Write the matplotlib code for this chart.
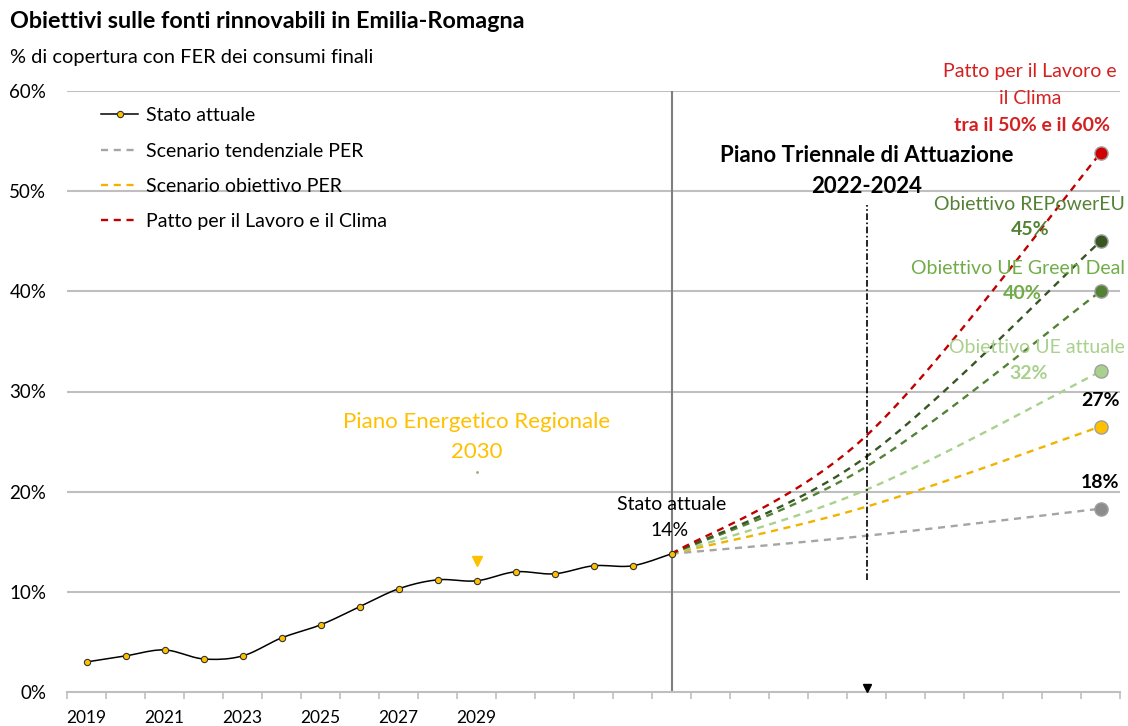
import matplotlib
matplotlib.use("Agg")
import matplotlib.pyplot as plt
import numpy as np

plt.rcParams['font.family'] = ['Lato', 'DejaVu Sans']

# categorie asse x (una ogni due ha l'etichetta)
etichette_anni = ['2019', '2021', '2023', '2025', '2027', '2029']
pos_etichette = [0, 2, 4, 6, 8, 10]
n_categorie = 27

# serie storica (% di copertura FER)
x_stato = list(range(16))
stato_attuale = [3.0, 3.6, 4.2, 3.3, 3.6, 5.4, 6.7, 8.5, 10.3, 11.2, 11.1, 12.0, 11.8, 12.6, 12.6, 13.8]

# scenari: valori a categoria 15 (oggi), 20 (PTA), 26 (obiettivo)
x_scenari = [15, 20, 26]
tendenziale_per = [13.8, 15.6, 18.3]
obiettivo_per = [13.8, 18.5, 26.5]
ue_attuale = [13.8, 20.2, 32.0]
ue_green_deal = [13.8, 22.5, 40.0]
repowereu = [13.8, 23.5, 45.0]
patto_lavoro = [13.8, 25.6, 53.8]

# punti singoli
per_2030 = [13.1, 22.0]    # triangolo e punto etichetta PER (cat. 10)
pta_base = 0.4             # triangolo PTA (cat. 20)
pta_linea = [11.2, 48.6]   # linea verticale PTA


def smooth(x, y, n=30):
    # curva tipo Excel (Catmull-Rom come Bezier)
    p = np.column_stack([x, y]).astype(float)
    pts = np.vstack([p[0], p, p[-1]])
    out = []
    for i in range(1, len(pts) - 2):
        p0, p1, p2, p3 = pts[i - 1], pts[i], pts[i + 1], pts[i + 2]
        c1 = p1 + (p2 - p0) / 6
        c2 = p2 - (p3 - p1) / 6
        t = np.linspace(0, 1, n)[:, None]
        seg = (1 - t) ** 3 * p1 + 3 * (1 - t) ** 2 * t * c1 + 3 * (1 - t) * t ** 2 * c2 + t ** 3 * p2
        out.append(seg if i == 1 else seg[1:])
    out = np.vstack(out)
    return out[:, 0], out[:, 1]


fig = plt.figure(figsize=(11.28, 7.26), dpi=100)
ax = fig.add_axes([67 / 1128, 34 / 726, 1053 / 1128, 601 / 726])

grigio_griglia = '#BFBFBF'
for v in range(10, 61, 10):
    ax.axhline(v, color=grigio_griglia, lw=1.5, zorder=0)

ax.axvline(15, color='#7F7F7F', lw=1.5, zorder=1)

dash = (0, (3.0, 2.4))
scenari = [
    (tendenziale_per, '#A5A5A5', '#8C8C8C', 'Scenario tendenziale PER'),
    (obiettivo_per, '#F0B400', '#FFC000', 'Scenario obiettivo PER'),
    (ue_attuale, '#A9D18E', '#A9D18E', None),
    (ue_green_deal, '#548235', '#548235', None),
    (repowereu, '#375623', '#375623', None),
    (patto_lavoro, '#C00000', '#D00000', 'Patto per il Lavoro e il Clima'),
]
handles = {}
for valori, col, col_m, nome in scenari:
    xs, ys = smooth(x_scenari, valori)
    ln, = ax.plot(xs, ys, color=col, lw=1.7, ls=dash, zorder=3)
    ax.plot(x_scenari[-1], valori[-1], 'o', ms=9.5, color=col_m, mec='#A0A0A0', mew=1, zorder=5)
    if nome:
        handles[nome] = ln

xs, ys = smooth(x_stato, stato_attuale, 12)
ax.plot(xs, ys, color='black', lw=1.1, zorder=4)
ax.plot(x_stato, stato_attuale, 'o', ms=4.5, color='#FFC000', mec='#333333', mew=0.8, zorder=5)
h_stato, = ax.plot([], [], color='black', lw=1.1, marker='o', ms=4.5, mfc='#FFC000', mec='#333333', mew=0.8)

# PER 2030
ax.plot(10, per_2030[0], 'v', ms=7, color='#FFC000', zorder=5)
ax.plot(10, per_2030[1], '.', ms=2, color='#B0A080', zorder=5)
# PTA 2022-2024
ax.plot([20, 20], pta_linea, color='black', lw=1.2, ls=(0, (4, 1.5, 1, 1.5)), zorder=4)
ax.plot(20, pta_base, 'v', ms=6, color='black', zorder=5)

leg = ax.legend([h_stato, handles['Scenario tendenziale PER'], handles['Scenario obiettivo PER'],
                 handles['Patto per il Lavoro e il Clima']],
                ['Stato attuale', 'Scenario tendenziale PER', 'Scenario obiettivo PER',
                 'Patto per il Lavoro e il Clima'],
                loc='upper left', bbox_to_anchor=(0.016, 1.002), frameon=False,
                fontsize=14, handlelength=1.9, handletextpad=0.4, labelspacing=0.94)

# testi
fs = 14
ax.text(24.2, 61.9, 'Patto per il Lavoro e', color='#D42020', fontsize=fs, ha='center', va='center', clip_on=False)
ax.text(24.2, 59.3, 'il Clima', color='#D42020', fontsize=fs, ha='center', va='center', clip_on=False)
ax.text(24.25, 56.6, 'tra il 50% e il 60%', color='#D42020', fontsize=fs, fontweight='bold', ha='center', va='center')
ax.text(20.0, 53.6, 'Piano Triennale di Attuazione', fontsize=16, fontweight='bold', ha='center', va='center')
ax.text(20.0, 50.5, '2022-2024', fontsize=16, fontweight='bold', ha='center', va='center')
ax.text(26.63, 48.7, 'Obiettivo REPowerEU', color='#548235', fontsize=fs, ha='right', va='center')
ax.text(24.2, 46.2, '45%', color='#548235', fontsize=fs, fontweight='bold', ha='center', va='center')
ax.text(26.63, 42.3, 'Obiettivo UE Green Deal', color='#70AD47', fontsize=fs, ha='right', va='center')
ax.text(24.0, 39.8, '40%', color='#70AD47', fontsize=fs, fontweight='bold', ha='center', va='center')
ax.text(26.63, 34.4, 'Obiettivo UE attuale', color='#A9D18E', fontsize=fs, ha='right', va='center')
ax.text(24.15, 31.8, '32%', color='#A9D18E', fontsize=fs, fontweight='bold', ha='center', va='center')
ax.text(26.0, 29.1, '27%', fontsize=fs, fontweight='bold', ha='center', va='center')
ax.text(26.0, 20.9, '18%', fontsize=fs, fontweight='bold', ha='center', va='center')
ax.text(15.0, 18.7, 'Stato attuale', fontsize=fs, ha='center', va='center')
ax.text(14.95, 16.1, '14%', fontsize=fs, ha='center', va='center')
ax.text(10.0, 27.0, 'Piano Energetico Regionale', color='#FFC000', fontsize=16, ha='center', va='center')
ax.text(10.0, 24.0, '2030', color='#FFC000', fontsize=16, ha='center', va='center')

fig.text(10 / 1128, 1 - 22 / 726, 'Obiettivi sulle fonti rinnovabili in Emilia-Romagna',
         fontsize=16.8, fontweight='bold', ha='left', va='center')
fig.text(10 / 1128, 1 - 57 / 726, '% di copertura con FER dei consumi finali',
         fontsize=14.4, ha='left', va='center')

# assi
ax.set_xlim(-0.5, n_categorie - 0.5)
ax.set_ylim(0, 60)
ax.set_yticks(range(0, 61, 10))
ax.set_yticklabels([f'{v}%' for v in range(0, 61, 10)], fontsize=13.5)
ax.tick_params(axis='y', length=0, pad=15)
ax.set_xticks(pos_etichette)
ax.set_xticklabels(etichette_anni, fontsize=12.5)
ax.set_xticks(np.arange(-0.5, n_categorie, 1), minor=True)
ax.tick_params(axis='x', which='major', length=0, pad=13)
ax.tick_params(axis='x', which='minor', length=5, color=grigio_griglia, width=1.2)
for s in ['top', 'right', 'left']:
    ax.spines[s].set_visible(False)
ax.spines['bottom'].set_color(grigio_griglia)
ax.spines['bottom'].set_linewidth(1.5)

fig.savefig('out.png', dpi=100)
